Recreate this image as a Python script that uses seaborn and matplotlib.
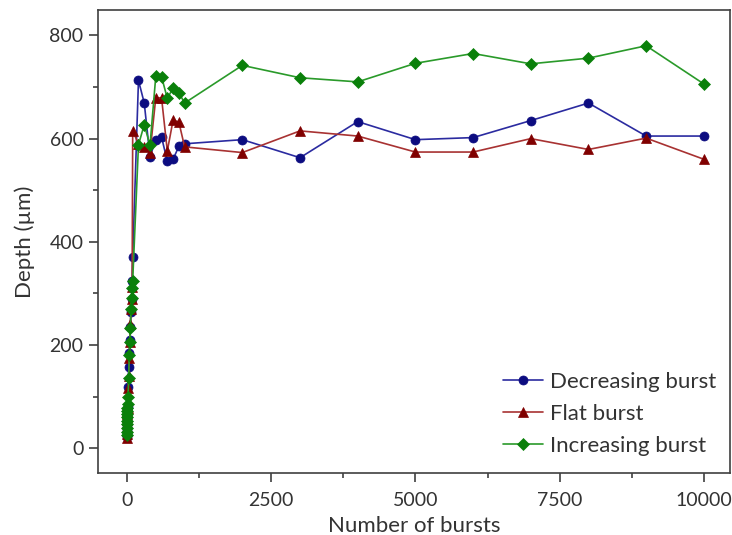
import matplotlib
matplotlib.use("Agg")
import matplotlib.pyplot as plt
import seaborn as sns
import numpy as np
import pandas as pd
from matplotlib.ticker import MultipleLocator

# number of bursts (shared by all three series)
bursts = [1, 2, 3, 4, 5, 6, 7, 8, 9, 10,
          20, 30, 40, 50, 60, 70, 80, 90, 100,
          200, 300, 400, 500, 600, 700, 800, 900, 1000,
          2000, 3000, 4000, 5000, 6000, 7000, 8000, 9000, 10000]

decreasing = [22, 30, 38, 45, 52, 58, 64, 70, 75, 80,
              118, 158, 185, 210, 235, 264, 290, 325, 371,
              713, 669, 565, 598, 603, 556, 560, 585, 590,
              598, 563, 633, 598, 602, 635, 669, 605, 605]

flat = [20, 27, 34, 41, 48, 55, 61, 67, 73, 78,
        116, 140, 175, 205, 240, 270, 290, 313, 615,
        590, 584, 573, 679, 679, 576, 636, 632, 584,
        573, 615, 605, 574, 574, 600, 579, 601, 560]

increasing = [25, 32, 39, 46, 53, 60, 66, 72, 78, 85,
              100, 136, 180, 206, 232, 270, 291, 310, 325,
              588, 627, 587, 721, 720, 678, 698, 689, 669,
              742, 718, 710, 746, 765, 745, 756, 780, 706]

series = [
    ("Decreasing burst", decreasing, "o", "#2b2ba0", "#0c0c80", 6.5),
    ("Flat burst", flat, "^", "#a83232", "#800000", 7),
    ("Increasing burst", increasing, "D", "#2a9a2a", "#0a800a", 6),
]

sns.set_style("white")
plt.rcParams["font.family"] = ["Lato", "DejaVu Sans"]

fig = plt.figure(figsize=(7.32, 5.35), dpi=100)
ax = fig.add_axes([0.134, 0.116, 0.863, 0.865])

for name, vals, mk, lc, mc, ms in series:
    df = pd.DataFrame({"x": bursts, "y": vals})
    sns.lineplot(data=df, x="x", y="y", ax=ax, color=lc, marker=mk,
                 markersize=ms, markerfacecolor=mc, markeredgecolor=mc,
                 markeredgewidth=0.5, linewidth=1.2, label=name)

ax.set_xlim(-500, 10450)
ax.set_ylim(-48, 849)
ax.xaxis.set_major_locator(MultipleLocator(2500))
ax.xaxis.set_minor_locator(MultipleLocator(1250))
ax.yaxis.set_major_locator(MultipleLocator(200))
ax.yaxis.set_minor_locator(MultipleLocator(100))

for s in ax.spines.values():
    s.set_color("#404040")
    s.set_linewidth(1.2)
ax.tick_params(axis="both", which="major", direction="out", length=6.5, width=1.2,
               color="#404040", labelsize=14, labelcolor="#333333",
               bottom=True, left=True)
ax.tick_params(axis="x", which="major", pad=7)
ax.tick_params(axis="y", which="major", pad=4)
ax.tick_params(axis="both", which="minor", direction="out", length=3.5, width=1.2,
               color="#404040", bottom=True, left=True)

ax.set_xlabel("Number of bursts", fontsize=16, color="#333333", labelpad=5)
ax.set_ylabel("Depth (\u00b5m)", fontsize=16, color="#333333", labelpad=10)

ax.legend(loc="lower right", bbox_to_anchor=(1.01, -0.007), frameon=False,
          fontsize=16, handlelength=1.8, handletextpad=0.3, labelspacing=0.55,
          labelcolor="#333333")

fig.savefig("out.png", dpi=100)
